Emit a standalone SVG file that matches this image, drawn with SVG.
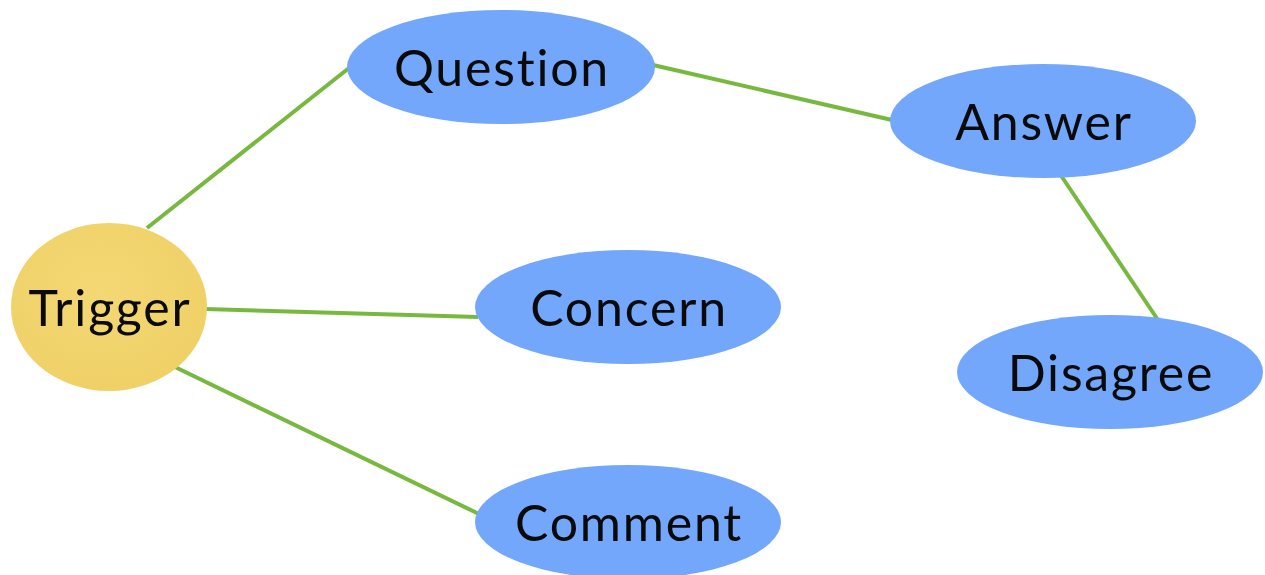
<svg xmlns="http://www.w3.org/2000/svg" width="1265" height="575" viewBox="0 0 1265 575">
<style>
.edge{stroke:#77B83F;stroke-width:4;fill:none;stroke-linecap:butt}
.node{fill:#73A7FC}
.label{font-family:Lato,"Open Sans",sans-serif;font-size:50px;letter-spacing:1.8px;fill:#0a0a0a;text-anchor:middle}
</style>
<defs>
<radialGradient id="yel" cx="0.45" cy="0.4" r="0.65">
<stop offset="0" stop-color="#F4D874"/>
<stop offset="1" stop-color="#EFD066"/>
</radialGradient>
</defs>
<rect width="1265" height="575" fill="#ffffff"/>
<g id="connectors">
<line class="edge" x1="147" y1="228" x2="349" y2="68"/>
<line class="edge" x1="653" y1="65" x2="892" y2="120"/>
<line class="edge" x1="205" y1="309" x2="478" y2="317"/>
<line class="edge" x1="175" y1="367" x2="479" y2="514"/>
<line class="edge" x1="1060" y1="174" x2="1158" y2="320"/>
</g>
<g id="trigger">
<ellipse cx="109" cy="307" rx="98" ry="84" fill="url(#yel)"/>
<text class="label" x="110" y="326">Trigger</text>
</g>
<g id="question">
<ellipse class="node" cx="501" cy="67" rx="154" ry="57"/>
<text class="label" x="502" y="86">Question</text>
</g>
<g id="answer">
<ellipse class="node" cx="1043" cy="121" rx="153" ry="57"/>
<text class="label" x="1044" y="140">Answer</text>
</g>
<g id="concern">
<ellipse class="node" cx="628" cy="307" rx="153" ry="57"/>
<text class="label" x="629" y="326">Concern</text>
</g>
<g id="disagree">
<ellipse class="node" cx="1110" cy="372" rx="153" ry="57"/>
<text class="label" x="1111" y="391">Disagree</text>
</g>
<g id="comment">
<ellipse class="node" cx="628" cy="522" rx="153" ry="57"/>
<text class="label" x="629" y="541">Comment</text>
</g>
</svg>
